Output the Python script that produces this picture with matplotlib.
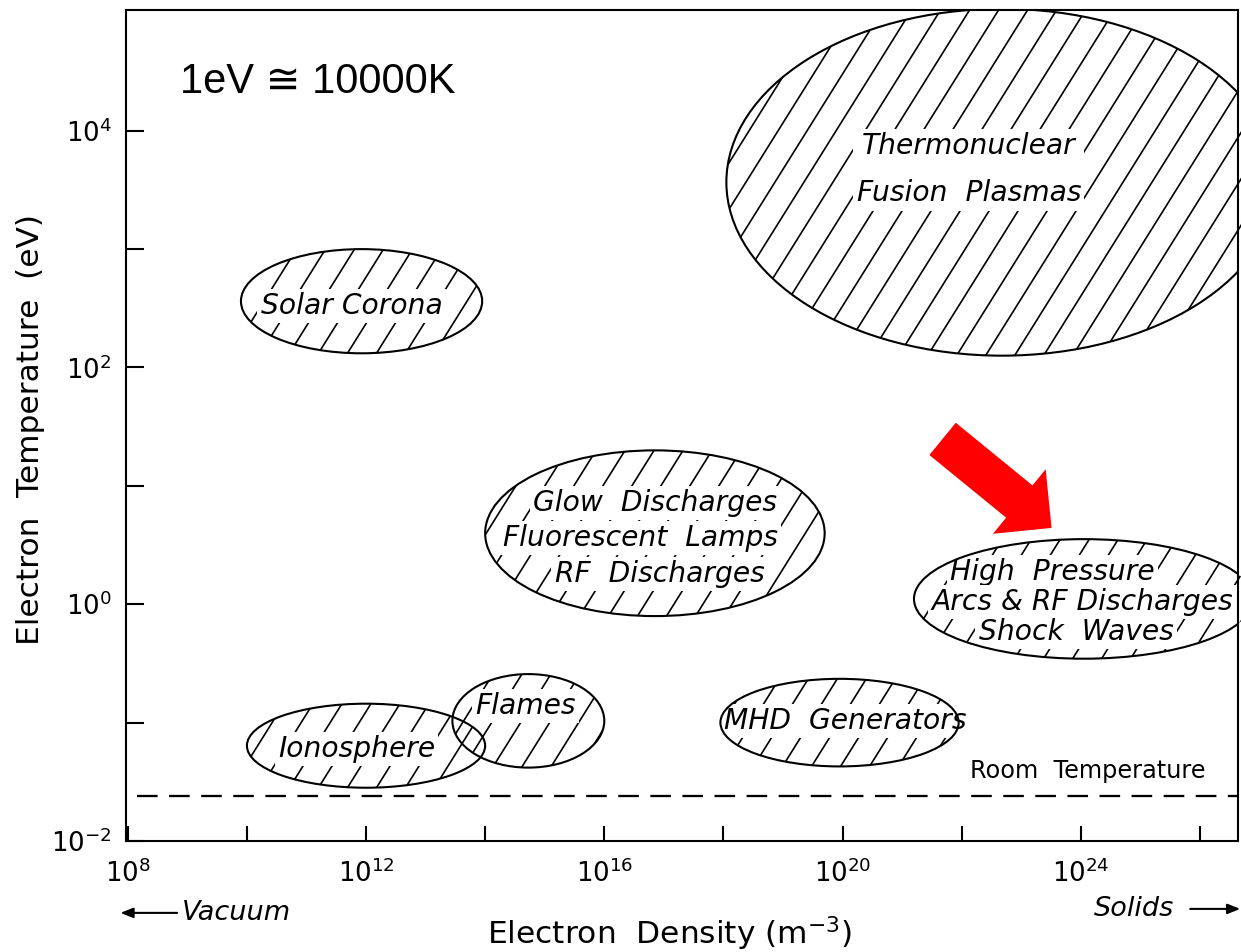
import numpy as np
import matplotlib
matplotlib.use("Agg")
import matplotlib.pyplot as plt
from matplotlib.patches import Ellipse
from matplotlib.collections import LineCollection

# plasma regions, as log10 ranges of electron density (m^-3) and temperature (eV)
regions = ["Solar Corona", "Thermonuclear", "Glow", "High Pressure", "MHD", "Ionosphere", "Flames"]
dens_lo = [9.90, 18.05, 14.00, 21.20, 17.95, 10.00, 13.45]
dens_hi = [13.95, 27.30, 19.70, 26.90, 21.95, 14.00, 16.00]
temp_lo = [2.12, 2.10, -0.10, -0.46, -1.37, -1.55, -1.38]
temp_hi = [3.00, 5.03, 1.30, 0.55, -0.63, -0.84, -0.59]

# label rows for each region: (text, log density, log temperature)
labels = [
    ("Solar Corona", 11.76, 2.52),
    ("Thermonuclear\nFusion  Plasmas", 22.12, 3.67),
    ("Glow  Discharges", 16.85, 0.856),
    ("Fluorescent  Lamps", 16.61, 0.560),
    ("RF  Discharges", 16.93, 0.256),
    ("High  Pressure", 23.53, 0.273),
    ("Arcs & RF Discharges", 24.02, 0.020),
    ("Shock  Waves", 23.92, -0.234),
    ("MHD  Generators", 20.04, -0.986),
    ("Ionosphere", 11.84, -1.223),
    ("Flames", 14.68, -0.859),
]

room_temp = -1.62          # log10 of room temperature in eV
x_major = [8, 12, 16, 20, 24]
x_minor = [10, 14, 18, 22, 26]
y_major = [-2, 0, 2, 4]
y_minor = [-1, 1, 3]

SLOPE = 0.805      # hatch slope in data units
SPACING = 0.487    # hatch spacing along the density axis


def hatched_region(ax, x0, x1, y0, y1):
    cx, cy = (x0 + x1) / 2, (y0 + y1) / 2
    w, h = x1 - x0, y1 - y0
    outline = Ellipse((cx, cy), w, h, facecolor="none", edgecolor="black",
                      linewidth=1.0, zorder=4)
    ax.add_patch(outline)
    k0 = int(np.floor((x0 - h / SLOPE) / SPACING))
    k1 = int(np.ceil(x1 / SPACING))
    segs = [[(k * SPACING, y0), (k * SPACING + h / SLOPE, y1)] for k in range(k0, k1 + 1)]
    lc = LineCollection(segs, colors="black", linewidths=0.8, zorder=2)
    lc.set_clip_path(outline)
    ax.add_collection(lc, autolim=False)


fig = plt.figure(figsize=(1241 / 150, 952 / 150), dpi=150)
ax = fig.add_axes([126 / 1241, 111 / 952, 1112 / 1241, 831 / 952])

for i in range(len(regions)):
    hatched_region(ax, dens_lo[i], dens_hi[i], temp_lo[i], temp_hi[i])

for text, x, y in labels:
    ax.text(x, y, text, fontsize=13.5, style="italic", ha="center", va="center",
            multialignment="center", linespacing=1.85, zorder=3,
            bbox=dict(boxstyle="square,pad=0.12", facecolor="white", edgecolor="none"))

ax.axhline(room_temp, xmin=0.01, xmax=1, color="black", linewidth=1.1,
           dashes=(9, 5), zorder=1)
ax.text(24.12, -1.408, "Room  Temperature", fontsize=11.5, ha="center", va="center")

ax.text(11.19, 4.41, "1eV \u2245 10000K", fontsize=20,
        family=["Liberation Sans", "DejaVu Sans"], ha="center", va="center")

# red pointer towards the high pressure region
ax.annotate("", xy=(23.51, 0.645), xytext=(21.68, 1.397),
            arrowprops=dict(arrowstyle="simple,head_length=0.5,head_width=1.0,tail_width=0.5",
                            mutation_scale=40, color="red", lw=0,
                            shrinkA=0, shrinkB=0), zorder=5)

ax.set_xlim(7.97, 26.64)
ax.set_ylim(-2.0, 5.02)

ax.set_xticks(x_major)
ax.set_xticklabels([f"$10^{{{v}}}$" for v in x_major])
ax.set_xticks(x_minor, minor=True)
ax.set_yticks(y_major)
ax.set_yticklabels([f"$10^{{{v}}}$" for v in y_major])
ax.set_yticks(y_minor, minor=True)
ax.tick_params(axis="x", which="both", direction="in", length=7.3, width=1,
               labelsize=12.5, pad=9)
ax.tick_params(axis="y", which="both", direction="in", length=8.5, width=1,
               labelsize=12.5, pad=7)
for s in ax.spines.values():
    s.set_linewidth(1.0)

ax.set_xlabel("Electron  Density $(\\mathregular{m^{-3}})$", fontsize=15, va="center")
ax.xaxis.set_label_coords(0.489, -0.112)
ax.set_ylabel("Electron  Temperature  (eV)", fontsize=15, va="center")
ax.yaxis.set_label_coords(-0.086, 0.495)

# density direction hints below the axis
ax.annotate("", xy=(-0.005, -0.0865), xytext=(0.046, -0.0865), xycoords="axes fraction",
            arrowprops=dict(arrowstyle="-|>,head_length=0.5,head_width=0.2",
                            color="black", lw=1.0, shrinkA=0, shrinkB=0))
ax.text(0.0504, -0.0865, "Vacuum", transform=ax.transAxes, fontsize=13,
        style="italic", ha="left", va="center")
ax.text(0.9065, -0.0817, "Solids", transform=ax.transAxes, fontsize=13,
        style="italic", ha="center", va="center")
ax.annotate("", xy=(1.002, -0.0817), xytext=(0.957, -0.0817), xycoords="axes fraction",
            arrowprops=dict(arrowstyle="-|>,head_length=0.5,head_width=0.2",
                            color="black", lw=1.0, shrinkA=0, shrinkB=0),
            annotation_clip=False)

fig.savefig("out.png", dpi=150)
